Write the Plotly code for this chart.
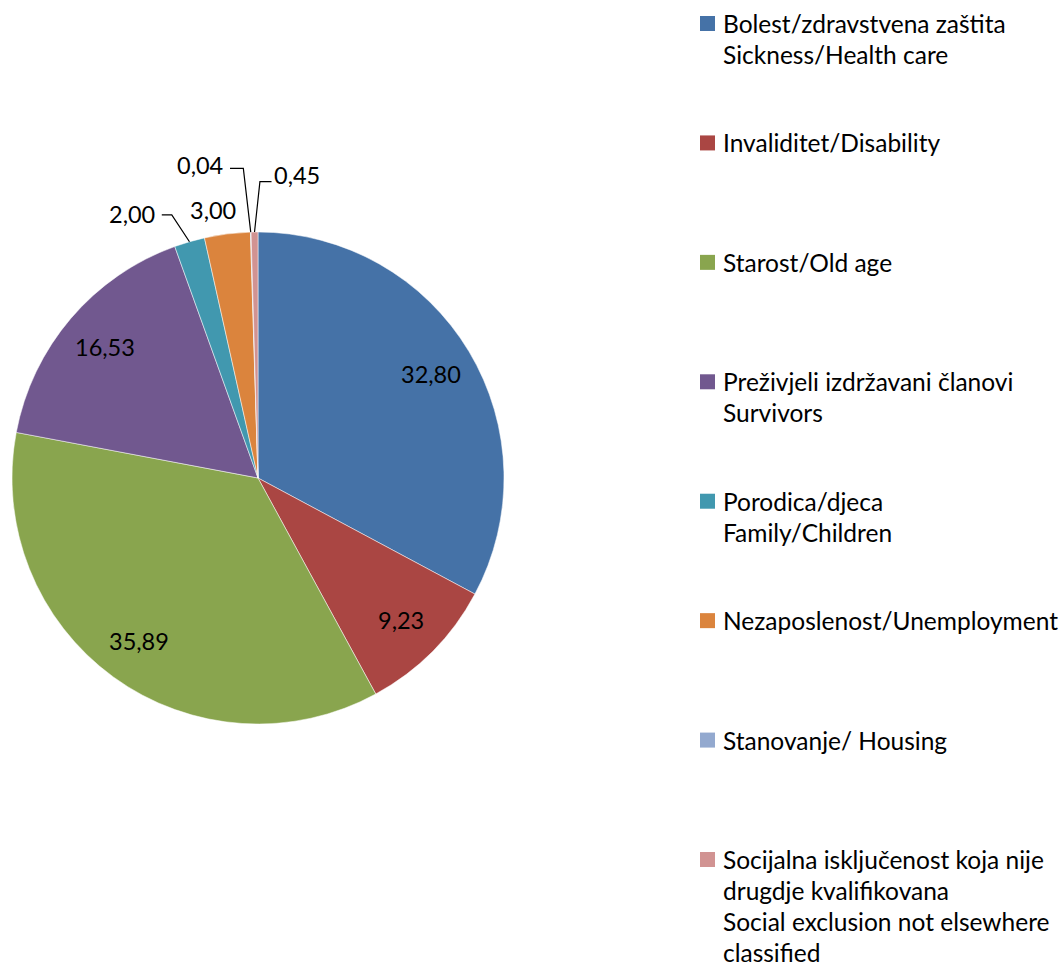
import math
import plotly.graph_objects as go

# ---------------- data ----------------
categories = [
    "Bolest/zdravstvena zaštita Sickness/Health care",
    "Invaliditet/Disability",
    "Starost/Old age",
    "Preživjeli izdržavani članovi Survivors",
    "Porodica/djeca Family/Children",
    "Nezaposlenost/Unemployment",
    "Stanovanje/ Housing",
    "Socijalna isključenost koja nije drugdje kvalifikovana Social exclusion not elsewhere classified",
]
legend_lines = [
    ["Bolest/zdravstvena zaštita", "Sickness/Health care"],
    ["Invaliditet/Disability"],
    ["Starost/Old age"],
    ["Preživjeli izdržavani članovi", "Survivors"],
    ["Porodica/djeca", "Family/Children"],
    ["Nezaposlenost/Unemployment"],
    ["Stanovanje/ Housing"],
    ["Socijalna isključenost koja nije", "drugdje kvalifikovana",
     "Social exclusion not elsewhere", "classified"],
]
values = [32.80, 9.23, 35.89, 16.53, 2.00, 3.00, 0.04, 0.45]
value_labels = ["32,80", "9,23", "35,89", "16,53", "2,00", "3,00", "0,04", "0,45"]

colors = ["#4572A7", "#AA4643", "#89A54E", "#71588F",
          "#4198AF", "#DB843D", "#93A9CF", "#D19392"]

# ---------------- layout settings ----------------
W, H = 1062, 967
CX, CY, R = 258, 478, 246          # pie centre / radius in pixels
FONT = "Lato, Calibri, Carlito, sans-serif"
FS = 23.5
LEG_FS = 24.5

def px(x, y):
    return x / W, 1 - y / H

# outside-label placement (offsets from slice edge point, in px)
outside = {
    4: dict(text=(-57, -28), leader=[(-17.7, -26.8), (-27.7, -26.8)]),
    5: dict(text=(-14, -24), leader=None),
    6: dict(text=(-50.7, -67), leader=[(-7.4, -63.7), (-20.7, -63.7)]),
    7: dict(text=(42, -57), leader=[(5.4, -50.3), (17, -50.3)]),
}
INSIDE_FRAC = 0.82

fig = go.Figure()
x0, y0 = px(CX - R, CY + R)
x1, y1 = px(CX + R, CY - R)
fig.add_trace(go.Pie(
    labels=categories, values=values, sort=False, direction="clockwise",
    rotation=0, textinfo="none", showlegend=False,
    marker=dict(colors=colors, line=dict(color="white", width=0.5)),
    domain=dict(x=[x0, x1], y=[y0, y1]),
    hovertemplate="%{label}: %{value}<extra></extra>",
))

annotations = []
shapes = []
total = sum(values)
cum = 0.0
for i, v in enumerate(values):
    a0 = cum / total * 360
    cum += v
    a1 = cum / total * 360
    mid = math.radians((a0 + a1) / 2)
    sx, sy = math.sin(mid), -math.cos(mid)
    if i in outside:
        ex, ey = CX + R * sx, CY + R * sy
        spec = outside[i]
        tx, ty = ex + spec["text"][0], ey + spec["text"][1]
        if spec["leader"]:
            pts = [(ex, ey)] + [(ex + dx, ey + dy) for dx, dy in spec["leader"]]
            path = "M " + " L ".join(
                f"{px(a, b)[0]},{px(a, b)[1]}" for a, b in pts)
            shapes.append(dict(type="path", xref="paper", yref="paper",
                               path=path, line=dict(color="black", width=1.2)))
    else:
        tx, ty = CX + INSIDE_FRAC * R * sx, CY + INSIDE_FRAC * R * sy
    ax_, ay_ = px(tx, ty)
    annotations.append(dict(x=ax_, y=ay_, xref="paper", yref="paper",
                            text=value_labels[i], showarrow=False,
                            xanchor="center", yanchor="middle",
                            font=dict(family=FONT, size=FS, color="black")))

# legend drawn manually to match the source spacing
LEG_X, LEG_Y0, LEG_STEP, SQ, LINE_H, TXT_X = 700, 23.5, 119.43, 15, 31, 721
for i, lines in enumerate(legend_lines):
    cy = LEG_Y0 + i * LEG_STEP
    qx0, qy0 = px(LEG_X, cy + SQ / 2)
    qx1, qy1 = px(LEG_X + SQ, cy - SQ / 2)
    shapes.append(dict(type="rect", xref="paper", yref="paper",
                       x0=qx0, y0=qy0, x1=qx1, y1=qy1,
                       fillcolor=colors[i], line=dict(width=0)))
    for j, ln in enumerate(lines):
        lx, ly = px(TXT_X, cy + j * LINE_H)
        annotations.append(dict(x=lx, y=ly, xref="paper", yref="paper",
                                text=ln, showarrow=False,
                                xanchor="left", yanchor="middle",
                                font=dict(family=FONT, size=LEG_FS, color="black")))

fig.update_layout(
    width=W, height=H, margin=dict(l=0, r=0, t=0, b=0),
    paper_bgcolor="white", plot_bgcolor="white",
    annotations=annotations, shapes=shapes,
)
fig.write_html("out.html", config={"displayModeBar": False},
               post_script="document.body.style.margin='0';document.body.style.overflow='hidden';")
